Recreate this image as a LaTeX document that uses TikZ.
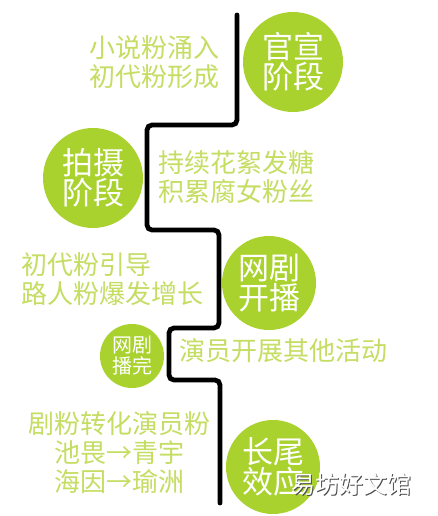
\documentclass[tikz,border=0pt]{standalone}
\usepackage{fontspec}
\newfontfamily\cjk{Noto Sans CJK SC}
\usepackage{tikz}
\usetikzlibrary{positioning}
\definecolor{lime}{HTML}{A9D22E}
\definecolor{palelime}{HTML}{C4DD62}
\tikzstyle{stage} = [circle, fill=lime, text=white, align=center, inner sep=0pt, font=\cjk\fontsize{31}{30}\selectfont]
\tikzstyle{note} = [text=palelime, align=center, inner sep=0pt, font=\cjk\fontsize{26}{29}\selectfont]
\tikzstyle{route} = [line width=4.8pt, rounded corners=5pt, line cap=round]
\tikzstyle{wmark} = [inner sep=0pt, font=\cjk\fontsize{24}{24}\selectfont]

\begin{document}
\begin{tikzpicture}[x=1pt,y=-1pt]

\fill[white] (0,0) rectangle (438,516);
\useasboundingbox (0,0) rectangle (438,516);

% the zigzag time line
\coordinate (p0) at (237,15);
\coordinate (p1) at (237,125);
\coordinate (p2) at (147,125);
\coordinate (p3) at (147,230);
\coordinate (p4) at (219,230);
\coordinate (p5) at (219,328);
\coordinate (p6) at (169,328);
\coordinate (p7) at (169,380);
\coordinate (p8) at (220,380);
\coordinate (p9) at (220,503);
\draw [route] (p0) -- (p1) -- (p2) -- (p3) -- (p4) -- (p5) -- (p6) -- (p7) -- (p8) -- (p9);

% stages
\node(guanxuan)[stage, minimum size=100pt] at (293,62) {官宣\\阶段};
\node(paishe)[stage, minimum size=100pt] at (93,178) {拍摄\\阶段};
\node(kaibo)[stage, minimum size=94pt] at (269,283) {网剧\\开播};
\node(bowan)[stage, minimum size=64pt, font=\cjk\fontsize{20}{21}\selectfont] at (132,356) {网剧\\播完};
\node(changwei)[stage, minimum size=94pt] at (273,467) {长尾\\效应};

% notes beside the line
\node(fans)[note] at (154,62) {小说粉涌入\\初代粉形成};
\node(sweet)[note] at (236,177) {持续花絮发糖\\积累腐女粉丝};
\node(growth)[note, align=left, anchor=west] at (21,279) {初代粉引导\\路人粉爆发增长};
\node(other)[note] at (283,351) {演员开展其他活动};
\node(convert)[note] at (119,453) {剧粉转化演员粉\\池畏→青宇\\海因→瑜洲};

% watermark
\node(shade)[wmark, text=gray!60!black] at (352.2,485.2) {易坊好文馆};
\node(watermark)[wmark, text=white] at (351,484) {易坊好文馆};

\end{tikzpicture}
\end{document}
